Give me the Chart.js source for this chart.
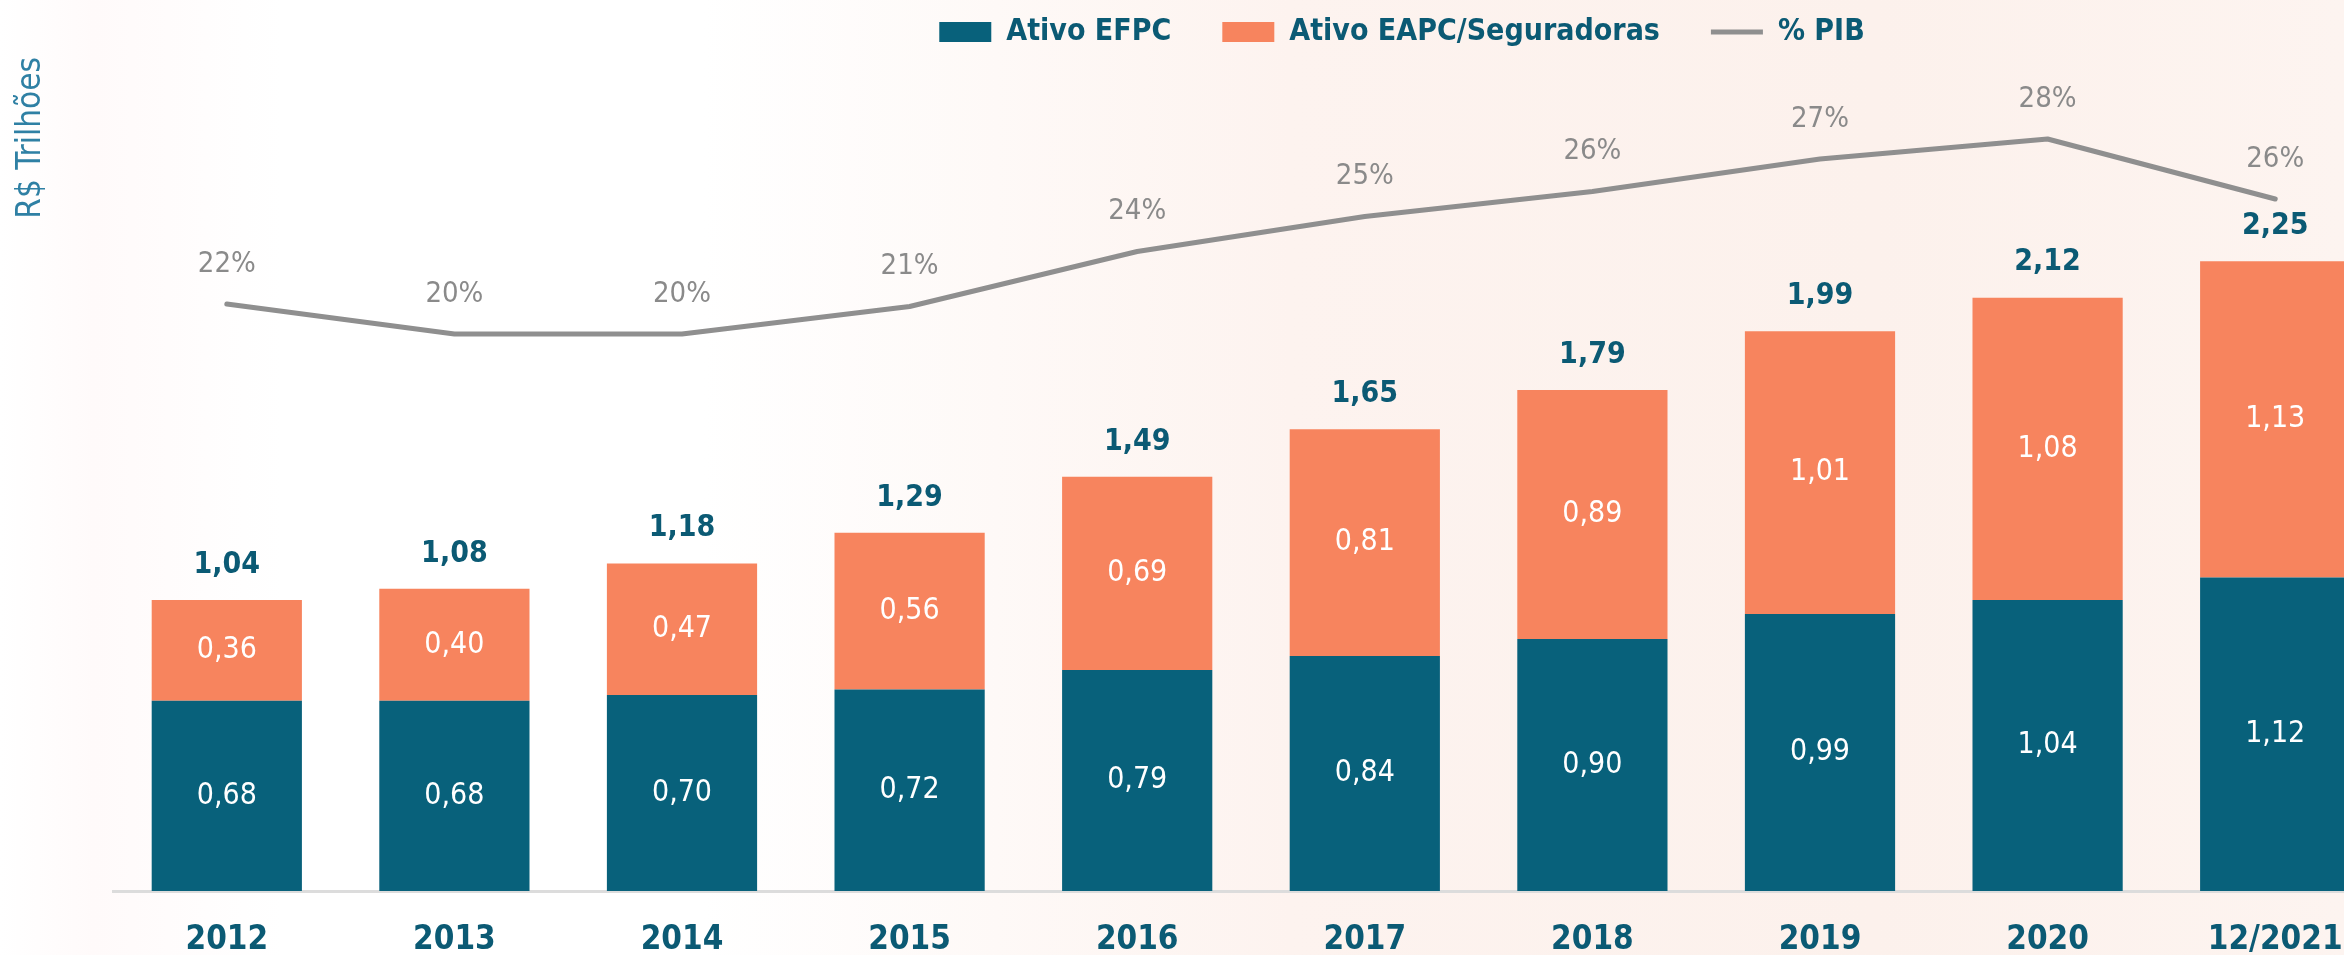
<!DOCTYPE html>
<html>
<head>
<meta charset="utf-8">
<script src="https://cdn.jsdelivr.net/npm/chart.js@4.4.1/dist/chart.umd.min.js"></script>
<style>
  html, body { margin: 0; padding: 0; background: #ffffff; }
  #wrap {
    position: relative; width: 2344px; height: 955px; overflow: hidden;
    background: linear-gradient(90deg, #ffffff 0%, #fffafa 4%, #ffffff 12%, #ffffff 30%, #fdf3ef 55%, #fcf1ec 80%, #fdf4f0 100%);
  }
  #c { position: absolute; left: 0; top: 0; }
</style>
</head>
<body>
<div id="wrap">
  <canvas id="c" width="2804" height="955"></canvas>
</div>
<script>
const categories = ['2012', '2013', '2014', '2015', '2016', '2017', '2018', '2019', '2020', '12/2021'];
const ativoEFPC  = [0.68, 0.68, 0.70, 0.72, 0.79, 0.84, 0.90, 0.99, 1.04, 1.12];
const ativoEAPC  = [0.36, 0.40, 0.47, 0.56, 0.69, 0.81, 0.89, 1.01, 1.08, 1.13];
const totals     = [1.04, 1.08, 1.18, 1.29, 1.49, 1.65, 1.79, 1.99, 2.12, 2.25];
const pibPct     = [21.5, 20.3, 20.3, 21.4, 23.6, 25.0, 26.0, 27.3, 28.1, 25.7];

const FONT = "'DejaVu Sans Condensed', 'DejaVu Sans', sans-serif";
const TEAL = '#08617b';
const ORANGE = '#f7845e';
const GRAY = '#8f8f8f';
const LABEL_TEAL = '#0b5a74';

const fmt = v => v.toFixed(2).replace('.', ',');

const labelsPlugin = {
  id: 'valueLabels',
  afterDatasetsDraw(chart) {
    const ctx = chart.ctx;
    ctx.save();
    ctx.textAlign = 'center';
    ctx.textBaseline = 'middle';
    // inner segment labels
    [0, 1].forEach(di => {
      const meta = chart.getDatasetMeta(di);
      const vals = chart.data.datasets[di].data;
      ctx.font = "normal 30px " + FONT;
      ctx.fillStyle = '#ffffff';
      meta.data.forEach((el, i) => {
        ctx.fillText(fmt(vals[i]), el.x, (el.y + el.base) / 2);
      });
    });
    // totals above each stack
    const topMeta = chart.getDatasetMeta(1);
    ctx.font = "bold 30px " + FONT;
    ctx.fillStyle = LABEL_TEAL;
    topMeta.data.forEach((el, i) => {
      ctx.fillText(fmt(totals[i]), el.x, el.y - 35);
    });
    // % PIB labels
    const lineMeta = chart.getDatasetMeta(2);
    ctx.font = "normal 29px " + FONT;
    ctx.fillStyle = '#8a8a8a';
    lineMeta.data.forEach((el, i) => {
      ctx.fillText(Math.round(pibPct[i]) + '%', el.x, el.y - 40);
    });
    ctx.restore();
  }
};

new Chart(document.getElementById('c'), {
  data: {
    labels: categories,
    datasets: [
      { type: 'bar', label: 'Ativo EFPC', data: ativoEFPC, backgroundColor: TEAL, borderWidth: 0,
        barPercentage: 0.66, categoryPercentage: 1.0, pointStyle: 'rect', yAxisID: 'y', stack: 's' },
      { type: 'bar', label: 'Ativo EAPC/Seguradoras', data: ativoEAPC, backgroundColor: ORANGE, borderWidth: 0,
        barPercentage: 0.66, categoryPercentage: 1.0, pointStyle: 'rect', yAxisID: 'y', stack: 's' },
      { type: 'line', label: '% PIB', data: pibPct, borderColor: GRAY, backgroundColor: GRAY, borderWidth: 5,
        pointRadius: 0, pointHoverRadius: 0, tension: 0, pointStyle: 'line', borderCapStyle: 'round',
        borderJoinStyle: 'round', yAxisID: 'y2', fill: false }
    ]
  },
  options: {
    responsive: false,
    animation: false,
    devicePixelRatio: 1,
    layout: { padding: { top: -34, left: 0, right: 0, bottom: 0 } },
    plugins: {
      tooltip: { enabled: false },
      legend: {
        position: 'top',
        labels: {
          usePointStyle: true,
          pointStyleWidth: 52,
          boxHeight: 20,
          padding: 51,
          color: LABEL_TEAL,
          font: { family: FONT, size: 30, weight: 'bold' }
        }
      }
    },
    scales: {
      x: {
        stacked: true,
        grid: { display: false },
        border: { display: true, color: '#dcdcdc', width: 3 },
        ticks: { color: LABEL_TEAL, font: { family: FONT, size: 33, weight: 'bold' }, padding: 22, maxRotation: 0, autoSkip: false },
        afterFit: s => { s.height = 64; }
      },
      y: {
        position: 'left',
        stacked: true,
        min: 0,
        max: 2.98,
        grid: { display: false },
        border: { display: false },
        ticks: { display: false },
        title: { display: true, text: 'R$ Trilhões', align: 'end', color: '#2f80a4',
                 font: { family: FONT, size: 33, weight: 'normal' }, padding: { top: 12, bottom: 0 } },
        afterFit: s => { s.width = 113; }
      },
      y2: {
        position: 'right',
        min: -1.98,
        max: 31.38,
        grid: { display: false },
        border: { display: false },
        ticks: { display: false },
        afterFit: s => { s.width = 415; }
      }
    }
  },
  plugins: [labelsPlugin]
});
</script>
</body>
</html>
